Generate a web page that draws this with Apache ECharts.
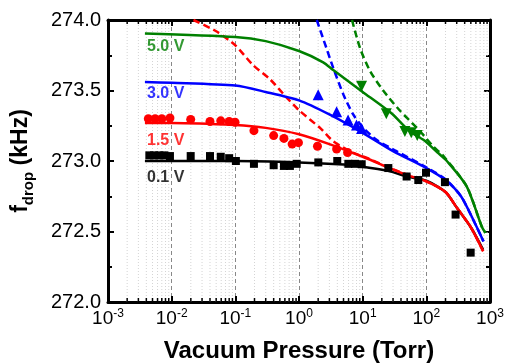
<!DOCTYPE html>
<html>
<head>
<meta charset="utf-8">
<script src="https://cdn.jsdelivr.net/npm/echarts@6/dist/echarts.min.js"></script>
<style>
  html, body { margin: 0; padding: 0; background: #fff; }
  #chart { width: 505px; height: 364px; }
</style>
</head>
<body>
<div id="chart"></div>
<script>
// values: [pressure (Torr), f_drop (kHz)]
const sq01V = [
  [0.00446, 273.04], [0.00528, 273.04], [0.0064, 273.04], [0.00766, 273.04], [0.0094, 273.035],
  [0.0199, 273.035], [0.040, 273.035], [0.059, 273.03], [0.080, 273.02], [0.102, 273.0],
  [0.196, 272.98], [0.40, 272.97], [0.58, 272.965], [0.72, 272.965], [0.92, 272.98],
  [2.01, 272.99], [3.99, 273.0], [5.95, 272.98], [7.57, 272.98], [9.66, 272.977],
  [25.3, 272.95], [49, 272.89], [74.8, 272.865], [98.8, 272.917], [196, 272.85],
  [288, 272.62], [497, 272.35]
]
const circ15V = [
  [0.0043, 273.30], [0.0055, 273.30], [0.0070, 273.30], [0.0094, 273.305], [0.0199, 273.295],
  [0.040, 273.28], [0.059, 273.285], [0.080, 273.28], [0.099, 273.275], [0.196, 273.215],
  [0.40, 273.18], [0.58, 273.16], [0.78, 273.12], [0.98, 273.13], [1.95, 273.105],
  [3.9, 273.085], [5.8, 273.06]
]
const tri30V = [[2, 273.47], [3.9, 273.35], [5.9, 273.29], [8, 273.255], [9.6, 273.23]]
const tri50V = [[9.6, 273.53], [23.5, 273.335], [46, 273.21], [58, 273.2], [72, 273.18]]

const fit01V = [
  [0.0038, 273.0], [0.1, 273.0], [1, 272.99], [5, 272.975], [10, 272.96], [25, 272.93],
  [50, 272.89], [100, 272.86], [200, 272.78], [300, 272.67], [500, 272.53], [780, 272.37]
]
const fit15V = [
  [0.0038, 273.27], [0.01, 273.27], [0.1, 273.255], [0.3, 273.235], [1, 273.19], [3, 273.12],
  [10, 273.03], [30, 272.94], [50, 272.9], [100, 272.855], [200, 272.78], [300, 272.67],
  [500, 272.53], [780, 272.36]
]
const dash15V = [
  [0.022, 274.0], [0.05, 273.92], [0.1, 273.82], [0.19, 273.68], [0.35, 273.58], [0.64, 273.45],
  [1, 273.36], [2.2, 273.23], [3.45, 273.14], [7, 273.06], [12, 273.02], [30, 272.94],
  [100, 272.855], [200, 272.78], [300, 272.67], [500, 272.53], [780, 272.36]
]
const fit30V = [
  [0.0038, 273.56], [0.01, 273.555], [0.1, 273.535], [0.3, 273.49], [1, 273.43], [3, 273.33],
  [10, 273.2], [30, 273.07], [100, 272.95], [200, 272.865], [350, 272.75], [550, 272.58], [790, 272.43]
]
const dash30V = [
  [1.9, 274.0], [2.7, 273.8], [3.45, 273.66], [5, 273.47], [7.1, 273.33], [10, 273.24],
  [16.5, 273.15], [34, 273.07], [100, 272.955], [200, 272.87], [350, 272.75], [550, 272.58], [790, 272.43]
]
const fit50V = [
  [0.0038, 273.905], [0.1, 273.88], [0.3, 273.85], [1, 273.78], [2.4, 273.7], [3.45, 273.645],
  [10, 273.49], [28, 273.34], [55, 273.21], [90, 273.15], [150, 273.06], [210, 273.0],
  [430, 272.82], [750, 272.53], [850, 272.49]
]
const dash50V = [
  [6.8, 274.0], [9.1, 273.8], [13, 273.64], [21, 273.5], [38, 273.36], [80, 273.21],
  [130, 273.1], [182, 273.04], [430, 272.82], [750, 272.53], [850, 272.49]
]

const curveLabels = ['5.0 V', '3.0 V', '1.5 V', '0.1 V']
const labelPos = [[0.0041, 273.81], [0.0041, 273.48], [0.0041, 273.145], [0.0041, 272.885]]
const labelColors = ['#008000', '#0000ff', '#ff0000', '#000000']

const decades = [-3, -2, -1, 0, 1, 2]
const minorTicks = []
decades.forEach(e => { for (let m = 2; m <= 9; m++) minorTicks.push([m * Math.pow(10, e), 272]) })

const FONT = '"Liberation Sans", Arial, sans-serif'
const RED = '#ff0000', BLUE = '#0000ff', GREEN = '#008000', BLACK = '#000000'

const chart = echarts.init(document.getElementById('chart'), null, { renderer: 'canvas' })

const frameAxis = {
  axisLine: { show: true, lineStyle: { color: '#000', width: 3 } },
  axisTick: { show: true, inside: true, length: 6, lineStyle: { color: '#000', width: 2 } }
}

const lineSeries = (data, color, dashed) => ({
  type: 'line',
  data,
  smooth: 0.25,
  symbol: 'none',
  z: 3,
  lineStyle: { color, width: 2.5, type: dashed ? [7, 4] : 'solid' }
})

const scatter = (data, color, symbol, size, rotate) => ({
  type: 'scatter',
  data,
  symbol,
  symbolSize: size,
  symbolRotate: rotate || 0,
  z: 4,
  itemStyle: { color, opacity: 1 }
})

chart.setOption({
  animation: false,
  backgroundColor: '#fff',
  textStyle: { fontFamily: FONT },
  grid: { left: 108, right: 15, top: 20, bottom: 62, outerBoundsMode: 'none', containLabel: false },
  xAxis: [{
    type: 'log',
    logBase: 10,
    min: 0.001,
    max: 1000,
    position: 'bottom',
    ...frameAxis,
    splitLine: { show: true, lineStyle: { color: '#888', type: [4, 3], width: 1 } },
    axisLabel: {
      margin: 6,
      formatter: v => '{b|10}{s|' + Math.round(Math.log10(v)) + '}',
      rich: {
        b: { fontSize: 19, color: '#000', fontFamily: FONT, lineHeight: 22 },
        s: { fontSize: 12, color: '#000', fontFamily: FONT, lineHeight: 12, verticalAlign: 'top' }
      }
    },
    name: 'Vacuum Pressure (Torr)',
    nameLocation: 'middle',
    nameGap: 37,
    nameTextStyle: { fontSize: 24, fontWeight: 'bold', color: '#000', fontFamily: FONT }
  }, {
    type: 'log',
    logBase: 10,
    min: 0.001,
    max: 1000,
    position: 'top',
    ...frameAxis,
    axisLabel: { show: false },
    splitLine: { show: false }
  }],
  yAxis: [{
    type: 'value',
    min: 272,
    max: 274,
    interval: 0.5,
    position: 'left',
    ...frameAxis,
    minorTick: { show: true, splitNumber: 2, length: 4, lineStyle: { color: '#000', width: 2 } },
    splitLine: { show: false },
    axisLabel: {
      margin: 7,
      fontSize: 20,
      color: '#000',
      formatter: v => v.toFixed(1)
    },
    name: '{f|f}{sub|drop}{f| (kHz)}',
    nameLocation: 'middle',
    nameRotate: 90,
    nameGap: 72,
    nameTextStyle: {
      rich: {
        f: { fontSize: 23, fontWeight: 'bold', color: '#000', fontFamily: FONT, lineHeight: 30 },
        sub: { fontSize: 15, fontWeight: 'bold', color: '#000', fontFamily: FONT, lineHeight: 15, verticalAlign: 'bottom' }
      }
    }
  }, {
    type: 'value',
    min: 272,
    max: 274,
    interval: 0.5,
    position: 'right',
    ...frameAxis,
    minorTick: { show: true, splitNumber: 2, length: 4, lineStyle: { color: '#000', width: 2 } },
    splitLine: { show: false },
    axisLabel: { show: false }
  }],
  series: [
    {
      // minor log grid lines and minor ticks (2..9 of each decade)
      type: 'custom',
      data: minorTicks,
      z: 1,
      silent: true,
      renderItem: (params, api) => {
        const x = api.value(0)
        const bot = api.coord([x, 272])
        const top = api.coord([x, 274])
        return {
          type: 'group',
          children: [
            { type: 'line', shape: { x1: bot[0], y1: bot[1], x2: top[0], y2: top[1] },
              style: { stroke: '#d4d4d4', lineWidth: 1, lineDash: [1, 2] } },
            { type: 'line', shape: { x1: bot[0], y1: bot[1], x2: bot[0], y2: bot[1] - 4 },
              style: { stroke: '#000', lineWidth: 1.5 } },
            { type: 'line', shape: { x1: top[0], y1: top[1], x2: top[0], y2: top[1] + 4 },
              style: { stroke: '#000', lineWidth: 1.5 } }
          ]
        }
      }
    },
    lineSeries(fit01V, BLACK, false),
    lineSeries(fit15V, RED, false),
    lineSeries(dash15V, RED, true),
    lineSeries(fit30V, BLUE, false),
    lineSeries(dash30V, BLUE, true),
    lineSeries(fit50V, GREEN, false),
    lineSeries(dash50V, GREEN, true),
    scatter(sq01V, BLACK, 'rect', 8),
    scatter(circ15V, RED, 'circle', 9),
    scatter(tri30V, BLUE, 'triangle', 11),
    scatter(tri50V, GREEN, 'triangle', 11, 180),
    {
      type: 'scatter',
      symbolSize: 0,
      silent: true,
      z: 5,
      data: curveLabels.map((t, i) => ({
        value: labelPos[i],
        name: t,
        label: { color: labelColors[i] }
      })),
      label: {
        show: true,
        position: 'right',
        distance: 0,
        formatter: p => p.name,
        fontSize: 16,
        fontWeight: 'bold',
        fontFamily: FONT
      }
    }
  ]
})
</script>
</body>
</html>
